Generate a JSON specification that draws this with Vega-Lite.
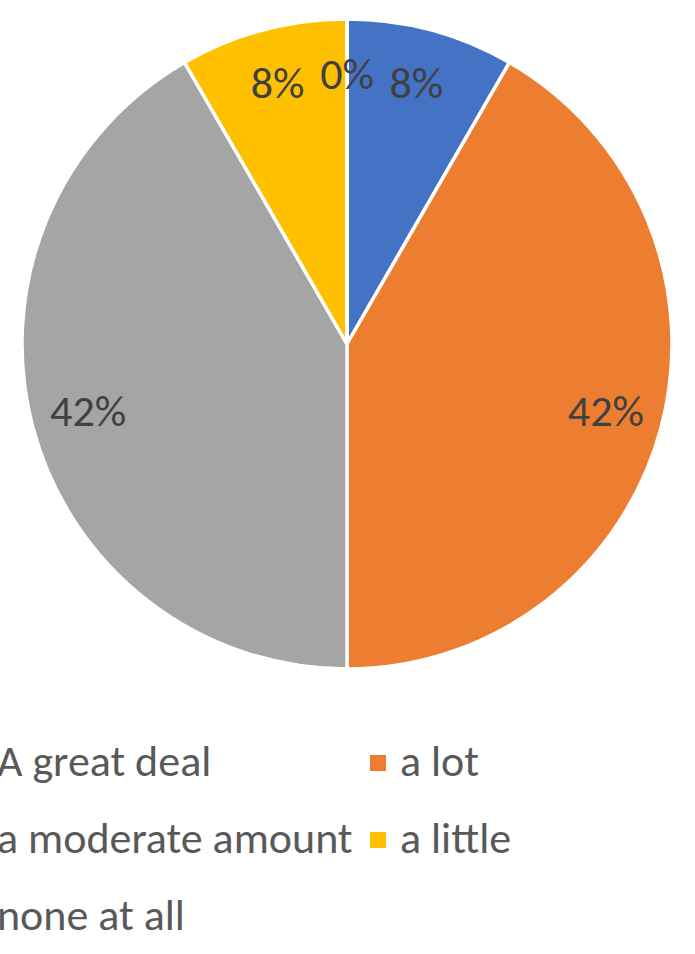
{
  "$schema": "https://vega.github.io/schema/vega-lite/v6.json",
  "autosize": {"type": "none"},
  "width": 694,
  "height": 688,
  "padding": {"top": 0, "left": 0, "right": 1, "bottom": 266},
  "background": "white",
  "view": {"stroke": null},
  "config": {"font": "Carlito, Lato, sans-serif"},
  "data": {
    "values": [
      {"answer": "A great deal", "i": 1, "share": 0.0833},
      {"answer": "a lot", "i": 2, "share": 0.4167},
      {"answer": "a moderate amount", "i": 3, "share": 0.4167},
      {"answer": "a little", "i": 4, "share": 0.0833},
      {"answer": "none at all", "i": 5, "share": 0.0}
    ]
  },
  "encoding": {
    "theta": {"field": "share", "type": "quantitative", "stack": true},
    "order": {"field": "i", "type": "quantitative", "sort": "ascending"}
  },
  "layer": [
    {
      "mark": {"type": "arc", "radius": 325, "stroke": "white", "strokeWidth": 3.5},
      "encoding": {
        "color": {
          "field": "answer",
          "type": "nominal",
          "sort": ["A great deal", "a lot", "a moderate amount", "a little", "none at all"],
          "scale": {
            "domain": ["A great deal", "a lot", "a moderate amount", "a little", "none at all"],
            "range": ["#4472C4", "#ED7D31", "#A5A5A5", "#FFC000", "#5B9BD5"]
          },
          "legend": {
            "title": null,
            "orient": "none",
            "legendX": -47,
            "legendY": 741,
            "direction": "horizontal",
            "columns": 2,
            "symbolType": "square",
            "symbolSize": 256,
            "symbolStrokeWidth": 0,
            "labelFontSize": 44,
            "labelColor": "#595959",
            "labelOffset": 0,
            "labelLimit": 600,
            "columnPadding": 3,
            "rowPadding": 33,
            "padding": 0
          }
        }
      }
    },
    {
      "mark": {"type": "text", "radius": 268, "fontSize": 44, "color": "#404040"},
      "encoding": {
        "text": {"field": "share", "type": "quantitative", "format": ".0%"}
      }
    }
  ]
}
